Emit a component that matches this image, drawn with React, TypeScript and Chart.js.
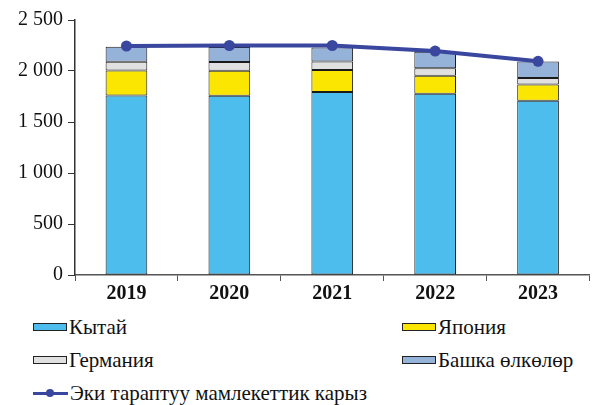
import React, { useEffect, useRef } from "react";
import { Chart, registerables } from "chart.js";

Chart.register(...registerables);

const years = ["2019", "2020", "2021", "2022", "2023"];
const china = [1760, 1757, 1794, 1777, 1708];
const japan = [245, 246, 217, 177, 159];
const germany = [85, 86, 82, 74, 65];
const others = [148, 147, 138, 160, 161];
const bilateralDebt = [2245, 2250, 2250, 2195, 2095];
const yTicks = [0, 500, 1000, 1500, 2000, 2500];

const names = {
  china: "Кытай",
  japan: "Япония",
  germany: "Германия",
  others: "Башка өлкөлөр",
  debt: "Эки тараптуу мамлекеттик карыз",
};

const colors = {
  china: "#4DBDEE",
  japan: "#FAE600",
  germany: "#E0E0E0",
  others: "#95B3D8",
  debt: "#3A479E",
};

const FONT = "'Liberation Serif', Tinos, 'Times New Roman', serif";

function fmt(v: number): string {
  return String(v).replace(/\B(?=(\d{3})+(?!\d))/g, " ");
}

export default function App() {
  const ref = useRef<HTMLCanvasElement | null>(null);

  useEffect(() => {
    document.body.style.margin = "0";
    const canvas = ref.current;
    if (!canvas) return;
    const barCommon = {
      type: "bar" as const,
      borderColor: "#1a1a1a",
      borderWidth: 1,
      borderSkipped: false as const,
      barPercentage: 0.405,
      categoryPercentage: 1,
      stack: "s",
      order: 1,
    };
    const chart = new Chart(canvas, {
      type: "bar",
      data: {
        labels: years,
        datasets: [
          { ...barCommon, label: names.china, data: china, backgroundColor: colors.china },
          { ...barCommon, label: names.japan, data: japan, backgroundColor: colors.japan },
          { ...barCommon, label: names.germany, data: germany, backgroundColor: colors.germany },
          { ...barCommon, label: names.others, data: others, backgroundColor: colors.others },
          {
            type: "line",
            label: names.debt,
            data: bilateralDebt,
            borderColor: colors.debt,
            backgroundColor: colors.debt,
            borderWidth: 4,
            pointRadius: 5.5,
            pointBorderWidth: 0,
            pointBackgroundColor: colors.debt,
            tension: 0,
            order: 0,
          } as any,
        ],
      },
      options: {
        responsive: false,
        animation: false,
        layout: { padding: { top: 20, right: 2, left: 0, bottom: 0 } },
        plugins: { legend: { display: false }, tooltip: { enabled: false } },
        scales: {
          x: {
            stacked: true,
            offset: true,
            grid: {
              offset: true,
              drawOnChartArea: false,
              drawTicks: true,
              tickLength: 6,
              color: "#555",
            },
            border: { display: true, color: "#555", width: 1.5 },
            ticks: {
              color: "#111",
              padding: 1,
              font: { family: FONT, size: 20, weight: "bold" },
            },
            afterFit: (s: any) => {
              s.height = 35;
            },
          },
          y: {
            stacked: true,
            min: 0,
            max: 2500,
            afterBuildTicks: (s: any) => {
              s.ticks = yTicks.map((v) => ({ value: v }));
            },
            grid: {
              drawOnChartArea: false,
              drawTicks: true,
              tickLength: 7,
              color: "#333",
            },
            border: { display: true, color: "#333", width: 1.5 },
            ticks: {
              color: "#111",
              padding: 5,
              font: { family: FONT, size: 20 },
              callback: (v: any) => fmt(Number(v)),
            },
            afterFit: (s: any) => {
              s.width = 75;
            },
          },
        },
      },
    });
    return () => chart.destroy();
  }, []);

  const textStyle: React.CSSProperties = {
    fontFamily: FONT,
    fontSize: 21,
    color: "#111",
    lineHeight: "22px",
    whiteSpace: "nowrap",
  };

  const boxItem = (left: number, top: number, color: string, label: string) => (
    <div
      style={{ position: "absolute", left, top: top - 11, display: "flex", alignItems: "center", height: 22 }}
    >
      <div
        style={{
          width: 34,
          height: 8,
          background: color,
          border: "1px solid #222",
          boxSizing: "border-box",
          marginRight: 2,
        }}
      />
      <span style={textStyle}>{label}</span>
    </div>
  );

  return (
    <div style={{ position: "relative", width: 595, height: 405, background: "#fff", overflow: "hidden" }}>
      <canvas ref={ref} width={595} height={310} style={{ display: "block" }} />
      {boxItem(33, 327, colors.china, names.china)}
      {boxItem(402, 327, colors.japan, names.japan)}
      {boxItem(33, 360, colors.germany, names.germany)}
      {boxItem(402, 360, colors.others, names.others)}
      <div style={{ position: "absolute", left: 33, top: 382, display: "flex", alignItems: "center", height: 22 }}>
        <div style={{ position: "relative", width: 35, height: 10, marginRight: 2 }}>
          <div style={{ position: "absolute", left: 0, top: 3.5, width: 35, height: 3, background: colors.debt }} />
          <div
            style={{
              position: "absolute",
              left: 13,
              top: 1,
              width: 8,
              height: 8,
              borderRadius: 4,
              background: colors.debt,
            }}
          />
        </div>
        <span style={textStyle}>{names.debt}</span>
      </div>
    </div>
  );
}
